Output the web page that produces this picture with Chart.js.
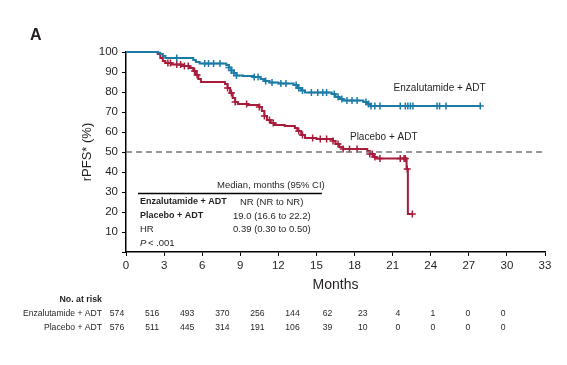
<!DOCTYPE html>
<html>
<head>
<meta charset="utf-8">
<script src="https://cdn.jsdelivr.net/npm/chart.js@4/dist/chart.umd.min.js"></script>
<style>
    html, body { margin: 0; padding: 0; background: #fff; }
    #wrap { width: 567px; height: 365px; }
</style>
</head>
<body>
<div id="wrap"><canvas id="kmChart" width="567" height="365"></canvas></div>
<script>
// Kaplan-Meier step points (months, % rPFS)
const enzaTimes = [0, 2.5, 2.7, 2.9, 3.1, 5.3, 5.5, 5.8, 7.9, 8.1, 8.3, 8.5, 8.7, 9.2, 10.0, 10.6, 10.9, 11.3, 12.0, 13.2, 13.5, 13.8, 14.1, 16.2, 16.5, 16.8, 17.1, 18.7, 19.0, 19.3, 27.9];
const enzaSurv  = [100, 99.6, 99, 98, 97, 96, 95, 94.2, 93.5, 92.2, 90.8, 89.5, 88.3, 88, 87.5, 86.5, 85.5, 84.8, 84.2, 83.5, 82, 80.8, 79.8, 79, 77.5, 76.5, 75.8, 75, 74, 73, 73];
const placeboTimes = [0, 2.5, 2.7, 2.9, 3.1, 3.6, 4.4, 5.0, 5.3, 5.5, 5.7, 5.9, 7.8, 8.0, 8.2, 8.4, 8.6, 8.8, 9.6, 10.5, 10.7, 10.9, 11.1, 11.4, 11.7, 12.5, 13.3, 13.5, 13.8, 14.1, 15.0, 16.3, 16.5, 16.8, 17.1, 19.0, 19.2, 19.5, 19.7, 22.1, 22.2, 22.55];
const placeboSurv  = [100, 99, 97, 95.5, 94.5, 93.8, 93, 92, 90.5, 88.5, 86.5, 85, 84, 82, 79.5, 77, 75, 74, 73.5, 72.5, 70.5, 68, 66, 64.5, 63.5, 63, 62, 60.5, 58.5, 57, 56.5, 55.5, 54, 52.5, 51.5, 50.5, 49, 47.5, 46.8, 41.5, 19, 19];

// censor marks (months)
const enzaCensor = [4.0, 6.2, 6.5, 6.9, 7.4, 8.1, 8.3, 8.5, 8.7, 10.1, 10.4, 11.0, 11.5, 12.2, 12.6, 13.4, 13.6, 13.9, 14.6, 15.1, 15.5, 15.8, 16.4, 16.7, 17.0, 17.4, 17.8, 18.2, 18.9, 19.1, 19.3, 19.6, 20.0, 21.6, 22.0, 22.2, 22.4, 22.6, 24.5, 24.7, 25.2, 27.9];
const placeboCensor = [3.3, 3.5, 4.0, 4.3, 4.6, 4.9, 5.4, 5.6, 8.0, 8.3, 8.6, 9.5, 10.5, 10.9, 11.3, 11.6, 13.6, 13.9, 14.7, 15.3, 15.8, 16.3, 16.7, 17.1, 17.6, 18.2, 19.2, 19.4, 19.6, 20.0, 21.6, 21.9, 22.0, 22.15, 22.55];

// number at risk
const riskMonths = [0, 3, 6, 9, 12, 15, 18, 21, 24, 27, 30, 33];
const enzaRisk = [574, 516, 493, 370, 256, 144, 62, 23, 4, 1, 0, 0];
const placeboRisk = [576, 511, 445, 314, 191, 106, 39, 10, 0, 0, 0, 0];

const BLUE = '#1b7aa6';
const RED = '#a71b3b';
const TXT = '#231f20';
const FONT = '"Liberation Sans", Arial, sans-serif';

function survAt(times, surv, t) {
    let v = surv[0];
    for (let i = 0; i < times.length; i++) {
        if (times[i] <= t) v = surv[i];
    }
    return v;
}

function toPoints(times, surv) {
    return times.map((t, i) => ({ x: t, y: surv[i] }));
}

function censorPoints(ct, times, surv) {
    return ct.map(t => ({ x: t, y: survAt(times, surv, t) }));
}

// extra text: panel letter, curve labels, inset table, risk table
const annotations = {
    id: 'annotations',
    afterDraw(chart) {
        const ctx = chart.ctx;
        const xs = chart.scales.x;
        const ys = chart.scales.y;
        ctx.save();
        ctx.fillStyle = TXT;
        ctx.textBaseline = 'middle';

        ctx.font = 'bold 16px ' + FONT;
        ctx.textAlign = 'left';
        ctx.fillText('A', 30, 36);

        // curve labels
        ctx.font = '10px ' + FONT;
        ctx.textAlign = 'center';
        ctx.fillText('Enzalutamide + ADT', xs.getPixelForValue(24.7), ys.getPixelForValue(82));
        ctx.fillText('Placebo + ADT', xs.getPixelForValue(20.3), ys.getPixelForValue(57.3));

        // inset table
        ctx.textAlign = 'left';
        ctx.font = '9.5px ' + FONT;
        ctx.fillText('Median, months (95% CI)', 217, 185);
        ctx.strokeStyle = '#000';
        ctx.lineWidth = 1.3;
        ctx.beginPath();
        ctx.moveTo(138, 193.5);
        ctx.lineTo(322, 193.5);
        ctx.stroke();
        ctx.font = 'bold 9px ' + FONT;
        ctx.fillText('Enzalutamide + ADT', 140, 202);
        ctx.fillText('Placebo + ADT', 140, 216);
        ctx.font = '9.5px ' + FONT;
        ctx.fillText('NR (NR to NR)', 240, 202);
        ctx.fillText('19.0 (16.6 to 22.2)', 233, 216);
        ctx.fillText('HR', 140, 229.5);
        ctx.fillText('0.39 (0.30 to 0.50)', 233, 229.5);
        ctx.font = 'italic 9.5px ' + FONT;
        ctx.fillText('P', 140, 243);
        ctx.font = '9.5px ' + FONT;
        ctx.fillText(' < .001', 140 + ctx.measureText('P').width - 1, 243);

        // number at risk
        ctx.textAlign = 'right';
        ctx.font = 'bold 8.8px ' + FONT;
        ctx.fillText('No. at risk', 102, 300);
        ctx.font = '8.6px ' + FONT;
        ctx.fillText('Enzalutamide + ADT', 102, 314);
        ctx.fillText('Placebo + ADT', 102, 328);
        ctx.textAlign = 'center';
        riskMonths.forEach((m, i) => {
            const cx = 117 + i * 35.1;
            ctx.fillText(String(enzaRisk[i]), cx, 314);
            ctx.fillText(String(placeboRisk[i]), cx, 328);
        });
        ctx.restore();
    }
};

const ctx = document.getElementById('kmChart').getContext('2d');
const kmChart = new Chart(ctx, {
    type: 'line',
    data: {
        datasets: [
            {
                label: 'ref50',
                data: [{ x: 0, y: 50 }, { x: 33, y: 50 }],
                borderColor: '#777',
                borderWidth: 1.5,
                borderDash: [6, 4],
                pointRadius: 0
            },
            {
                label: 'Enzalutamide + ADT',
                data: toPoints(enzaTimes, enzaSurv),
                borderColor: BLUE,
                borderWidth: 2,
                stepped: 'before',
                pointRadius: 0,
                clip: false
            },
            {
                label: 'Placebo + ADT',
                data: toPoints(placeboTimes, placeboSurv),
                borderColor: RED,
                borderWidth: 2,
                stepped: 'before',
                pointRadius: 0,
                clip: false
            },
            {
                label: 'Enza censored',
                data: censorPoints(enzaCensor, enzaTimes, enzaSurv),
                showLine: false,
                pointStyle: 'cross',
                pointRadius: 3.5,
                pointBorderWidth: 1.5,
                borderColor: BLUE,
                clip: false
            },
            {
                label: 'Placebo censored',
                data: censorPoints(placeboCensor, placeboTimes, placeboSurv),
                showLine: false,
                pointStyle: 'cross',
                pointRadius: 3.5,
                pointBorderWidth: 1.5,
                borderColor: RED,
                clip: false
            }
        ]
    },
    options: {
        responsive: false,
        animation: false,
        events: [],
        layout: { padding: { left: 80, top: 52, right: 22, bottom: 68 } },
        plugins: {
            legend: { display: false },
            tooltip: { enabled: false }
        },
        scales: {
            x: {
                type: 'linear',
                min: 0,
                max: 33,
                afterFit: (scale) => { scale.height = 45; },
                ticks: {
                    stepSize: 3,
                    color: TXT,
                    padding: 3,
                    font: { family: FONT, size: 11.5 }
                },
                grid: { drawOnChartArea: false, tickLength: 4, color: '#000' },
                border: { color: '#000', width: 1.5 },
                title: {
                    display: true,
                    text: 'Months',
                    color: TXT,
                    padding: { top: 0, bottom: 3 },
                    font: { family: FONT, size: 14 }
                }
            },
            y: {
                min: 0,
                max: 100,
                afterFit: (scale) => { scale.width = 46; },
                ticks: {
                    stepSize: 10,
                    color: TXT,
                    padding: 4,
                    font: { family: FONT, size: 11.5 },
                    callback: (v) => v === 0 ? '' : v
                },
                grid: { drawOnChartArea: false, tickLength: 4, color: '#000' },
                border: { color: '#000', width: 1.5 },
                title: {
                    display: true,
                    text: 'rPFS* (%)',
                    color: TXT,
                    padding: 0,
                    font: { family: FONT, size: 13 }
                }
            }
        }
    },
    plugins: [annotations]
});
</script>
</body>
</html>
